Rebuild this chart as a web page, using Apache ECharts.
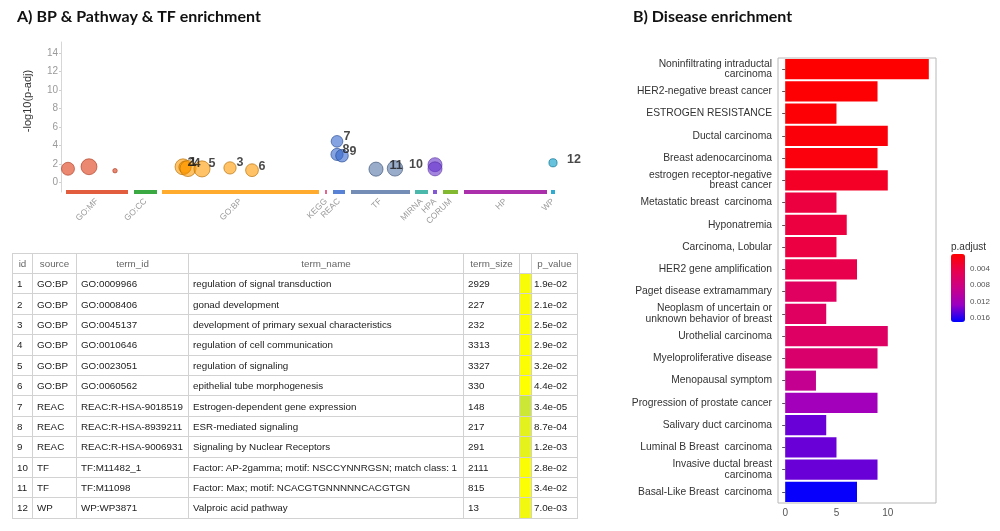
<!DOCTYPE html>
<html><head><meta charset="utf-8">
<script src="https://cdn.jsdelivr.net/npm/echarts@6/dist/echarts.min.js"></script>
<style>
html,body{margin:0;padding:0;background:#fff;}
#chart{position:absolute;left:0;top:0;width:1000px;height:531px;}
#tbl{position:absolute;left:12px;top:253px;border-collapse:collapse;font-family:'Liberation Sans',Arial,sans-serif;font-size:9.8px;color:#222;table-layout:fixed;width:565px;}
#tbl td,#tbl th{border:1px solid #d2d2d2;height:20.4px;padding:0 0 0 4px;white-space:nowrap;overflow:hidden;text-align:left;font-weight:normal;box-sizing:border-box;}
#tbl th{color:#666;text-align:center;padding:0;height:20px;}
#tbl td.pv{padding-left:2px;}
</style></head><body>
<div id="chart"></div>
<table id="tbl"></table>
<script>
// ---------- Table / term data ----------
const tableIds = [1,2,3,4,5,6,7,8,9,10,11,12];
const tableSources = ['GO:BP','GO:BP','GO:BP','GO:BP','GO:BP','GO:BP','REAC','REAC','REAC','TF','TF','WP'];
const tableTermIds = ['GO:0009966','GO:0008406','GO:0045137','GO:0010646','GO:0023051','GO:0060562','REAC:R-HSA-9018519','REAC:R-HSA-8939211','REAC:R-HSA-9006931','TF:M11482_1','TF:M11098','WP:WP3871'];
const tableTermNames = ['regulation of signal transduction','gonad development','development of primary sexual characteristics','regulation of cell communication','regulation of signaling','epithelial tube morphogenesis','Estrogen-dependent gene expression','ESR-mediated signaling','Signaling by Nuclear Receptors','Factor: AP-2gamma; motif: NSCCYNNRGSN; match class: 1','Factor: Max; motif: NCACGTGNNNNNCACGTGN','Valproic acid pathway'];
const tableTermSizes = [2929,227,232,3313,3327,330,148,217,291,2111,815,13];
const tablePValues = [1.9e-2,2.1e-2,2.5e-2,2.9e-2,3.2e-2,4.4e-2,3.4e-5,8.7e-4,1.2e-3,2.8e-2,3.4e-2,7.0e-3];
const tableHeaders = ['id','source','term_id','term_name','term_size','','p_value'];

// ---------- Manhattan plot data ----------
const sourceNames = ['GO:MF','GO:CC','GO:BP','KEGG','REAC','TF','MIRNA','HPA','CORUM','HP','WP'];
const sourceStart = [5,73,101,264,272,290,354,372,382,403,490];
const sourceEnd   = [67,96,258,266,284,349,367,376,397,486,494];
const termX = [122,124,169,127,141,191,276,276,281,334,315,492];   // position of labelled terms along the source axis
const otherSources = ['GO:MF','GO:MF','GO:MF','HPA','HPA'];
const otherX = [7,28,54,374,374];
const otherY = [1.51,1.73,1.3,1.95,1.5];
const otherTermSizes = [380,3000,1,800,800];
const yTicks = [0,2,4,6,8,10,12,14];

// ---------- Disease enrichment data ----------
const diseaseNames = ['Noninfiltrating intraductal\ncarcinoma','HER2-negative breast cancer','ESTROGEN RESISTANCE','Ductal carcinoma','Breast adenocarcinoma','estrogen receptor-negative\nbreast cancer','Metastatic breast  carcinoma','Hyponatremia','Carcinoma, Lobular','HER2 gene amplification','Paget disease extramammary','Neoplasm of uncertain or\nunknown behavior of breast','Urothelial carcinoma','Myeloproliferative disease','Menopausal symptom','Progression of prostate cancer','Salivary duct carcinoma','Luminal B Breast  carcinoma','Invasive ductal breast\ncarcinoma','Basal-Like Breast  carcinoma'];
const diseaseCounts = [14,9,5,10,9,10,5,6,5,7,5,4,10,9,3,9,4,5,9,7];
const diseasePAdjust = [0.0004,0.0006,0.0007,0.0009,0.0011,0.0024,0.0037,0.0037,0.0038,0.0044,0.0058,0.0058,0.006,0.0066,0.0092,0.0122,0.0142,0.0142,0.0142,0.0168];
const xTicksB = [0,5,10];
const legendTicks = [0.004,0.008,0.012,0.016];

// ---------- styles ----------
const sourceColors = ['#dc3912','#109618','#ff9900','#dd4477','#3366cc','#5574a6','#22aa99','#6633cc','#66aa00','#990099','#0099c6'];
const labelNudge = [[10,-4],[6,-5],[10,-5],[9,-5],[10,-5],[10,-4],[10,-5],[9,-5],[11,-4],[21,-4],[20,-4],[21,-3]];
const gradStops = ['#ff0000','#e8004f','#ca0089','#9a00c3','#0000ff'];

function hexRgb(h){h=h.replace('#','');return [parseInt(h.substr(0,2),16),parseInt(h.substr(2,2),16),parseInt(h.substr(4,2),16)];}
function rgba(h,a){const c=hexRgb(h);return 'rgba('+c.join(',')+','+a+')';}
function darker(h,f){const c=hexRgb(h).map(v=>Math.round(v*f));return 'rgb('+c.join(',')+')';}
function diam(size){return 4.5+3.3*Math.log10(size);}
function fmtP(p){return p.toExponential(1).replace(/e([+-])(\d)$/,'e$10$2');}
function pCell(p){
  const t=Math.max(0,Math.min(1,(-Math.log10(p)-1.3)/3.5));
  const a=[255,255,0], b=[200,228,60];
  return 'rgb('+a.map((v,i)=>Math.round(v+(b[i]-v)*t)).join(',')+')';
}

// ---------- table ----------
(function(){
  const tbl=document.getElementById('tbl');
  const widths=[20,44,112,275,56,12,46];
  let html='<colgroup>'+widths.map(w=>'<col style="width:'+w+'px">').join('')+'</colgroup>';
  html+='<tr>'+tableHeaders.map(h=>'<th>'+h+'</th>').join('')+'</tr>';
  tableIds.forEach((id,i)=>{
    html+='<tr><td>'+id+'</td><td>'+tableSources[i]+'</td><td>'+tableTermIds[i]+'</td><td>'+tableTermNames[i]+'</td><td>'+tableTermSizes[i]+'</td><td style="background:'+pCell(tablePValues[i])+'"></td><td class="pv">'+fmtP(tablePValues[i])+'</td></tr>';
  });
  tbl.innerHTML=html;
})();

// ---------- chart ----------
const chart = echarts.init(document.getElementById('chart'));
const centers = sourceStart.map((s,i)=>(s+sourceEnd[i])/2);
const centerName = {}; centers.forEach((c,i)=>{centerName[String(c)]=sourceNames[i];});

const segData = sourceNames.map((n,i)=>({coords:[[sourceStart[i],-0.97],[sourceEnd[i],-0.97]], lineStyle:{color:rgba(sourceColors[i],0.82)}}));

const pts=[];
otherSources.forEach((s,i)=>{
  const si=sourceNames.indexOf(s);
  pts.push({value:[otherX[i],otherY[i]], symbolSize:diam(otherTermSizes[i]), itemStyle:{color:rgba(sourceColors[si],0.75), borderColor:darker(sourceColors[si],0.75), borderWidth:0.7}});
});
tableIds.forEach((id,i)=>{
  const si=sourceNames.indexOf(tableSources[i]);
  pts.push({value:[termX[i],-Math.log10(tablePValues[i])], symbolSize:diam(tableTermSizes[i]),
    itemStyle:{color:rgba(sourceColors[si],0.75), borderColor:darker(sourceColors[si],0.7), borderWidth:0.8},
    label:{show:true, formatter:String(id), position:'inside', offset:labelNudge[i], fontSize:12.5, fontWeight:'bold', color:'#1a1a1a', fontFamily:'Liberation Sans'}});
});

const option = {
  animation:false,
  backgroundColor:'#fff',
  textStyle:{fontFamily:'Liberation Sans, Arial, sans-serif'},
  title:[
    {text:'A) BP & Pathway & TF enrichment', left:17, top:9, padding:0, textStyle:{fontFamily:'Lato', fontWeight:'bold', fontSize:16, color:'#111'}},
    {text:'B) Disease enrichment', left:633, top:9, padding:0, textStyle:{fontFamily:'Lato', fontWeight:'bold', fontSize:16, color:'#111'}}
  ],
  grid:[
    {left:61, top:42, width:500, height:150},
    {left:778, top:58, width:158, height:445, show:true, borderColor:'#b8b8b8', borderWidth:1, backgroundColor:'transparent'},
    {left:951, top:254, width:14, height:68}
  ],
  xAxis:[
    {gridIndex:0, type:'value', min:0, max:500, axisLine:{show:false}, axisTick:{show:false}, splitLine:{show:false},
      axisLabel:{customValues:centers, formatter:v=>centerName[String(v)]||'', rotate:45, fontSize:8.5, color:'#9a9a9a', margin:8}},
    {gridIndex:1, type:'value', min:-0.7, max:14.7, axisLine:{show:false}, splitLine:{show:false},
      axisTick:{customValues:xTicksB, length:3, lineStyle:{color:'#555'}},
      axisLabel:{customValues:xTicksB, fontSize:10, color:'#555', margin:5}},
    {gridIndex:2, type:'value', show:false}
  ],
  yAxis:[
    {gridIndex:0, type:'value', min:-1, max:15.2, splitLine:{show:false},
      axisLine:{show:true, lineStyle:{color:'#d6d6d6'}},
      axisTick:{customValues:yTicks, length:2, lineStyle:{color:'#cfcfcf'}},
      axisLabel:{customValues:yTicks, fontSize:10, color:'#9a9a9a', margin:3}},
    {gridIndex:1, type:'category', data:diseaseNames, inverse:true, axisLine:{show:false},
      axisTick:{show:true, alignWithLabel:true, length:3, lineStyle:{color:'#555'}},
      axisLabel:{interval:0, fontSize:10.3, color:'#333', margin:6, lineHeight:10.5, align:'right'}},
    {gridIndex:2, type:'value', min:0.0004, max:0.017, inverse:true, position:'right',
      axisLine:{show:false}, axisTick:{show:false}, splitLine:{show:false},
      axisLabel:{customValues:legendTicks, fontSize:8, color:'#555', margin:5, formatter:v=>v.toFixed(3)}}
  ],
  visualMap:[{
    type:'continuous', seriesIndex:2, dimension:2, min:0.0004, max:0.017, inverse:true,
    orient:'vertical', left:951, top:254, itemWidth:14, itemHeight:68, padding:0,
    calculable:false, text:null, showLabel:false, inRange:{color:gradStops}, hoverLink:false
  }],
  graphic:[
    {type:'text', x:28, y:101, rotation:Math.PI/2, style:{text:'-log10(p-adj)', fontSize:11, fill:'#333', align:'center', verticalAlign:'middle', fontFamily:'Liberation Sans'}},
    {type:'text', x:951, y:242, style:{text:'p.adjust', fontSize:10, fill:'#333', fontFamily:'Liberation Sans'}}
  ],
  series:[
    {type:'lines', coordinateSystem:'cartesian2d', xAxisIndex:0, yAxisIndex:0, polyline:false, lineStyle:{width:4, opacity:1}, data:segData, silent:true},
    {type:'scatter', xAxisIndex:0, yAxisIndex:0, data:pts, clip:false},
    {type:'bar', xAxisIndex:1, yAxisIndex:1, barWidth:'90%', encode:{x:0, y:1},
      data:diseaseCounts.map((v,i)=>[v,i,diseasePAdjust[i]])}
  ]
};
chart.setOption(option);
</script>
</body></html>
